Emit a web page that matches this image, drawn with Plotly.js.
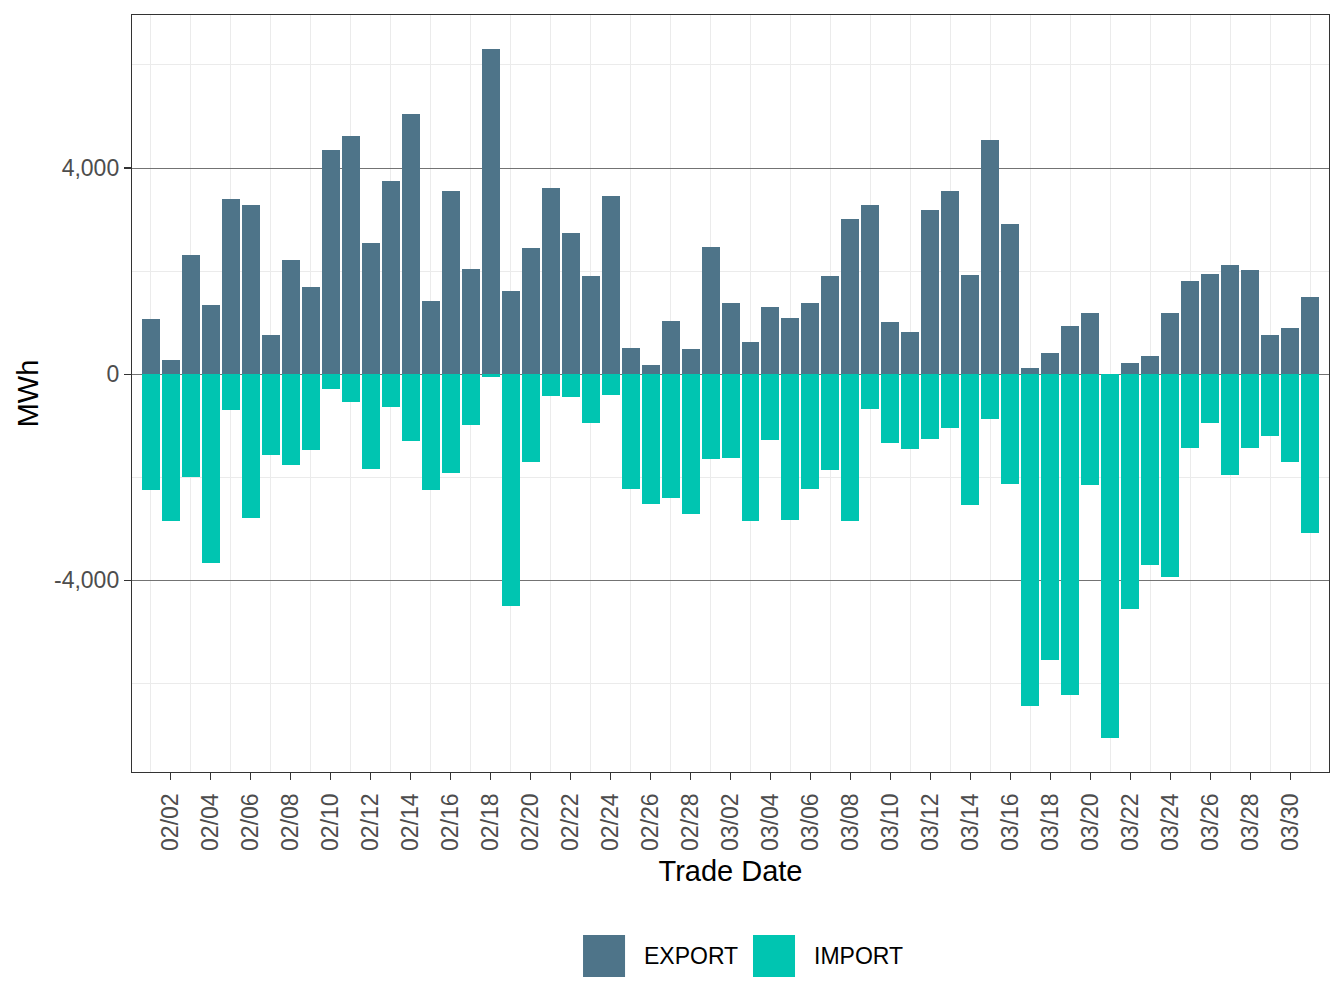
<!DOCTYPE html>
<html>
<head>
<meta charset="utf-8">
<script src="https://cdn.plot.ly/plotly-3.0.1.min.js"></script>
<style>
  html, body { margin: 0; padding: 0; background: #ffffff; }
  #chart { width: 1344px; height: 1008px; }
</style>
</head>
<body>
<div id="chart"></div>
<script>
// ---- Data ----
const tradeDates = [
  "2023-02-01","2023-02-02","2023-02-03","2023-02-04","2023-02-05","2023-02-06","2023-02-07","2023-02-08","2023-02-09","2023-02-10",
  "2023-02-11","2023-02-12","2023-02-13","2023-02-14","2023-02-15","2023-02-16","2023-02-17","2023-02-18","2023-02-19","2023-02-20",
  "2023-02-21","2023-02-22","2023-02-23","2023-02-24","2023-02-25","2023-02-26","2023-02-27","2023-02-28","2023-03-01","2023-03-02",
  "2023-03-03","2023-03-04","2023-03-05","2023-03-06","2023-03-07","2023-03-08","2023-03-09","2023-03-10","2023-03-11","2023-03-12",
  "2023-03-13","2023-03-14","2023-03-15","2023-03-16","2023-03-17","2023-03-18","2023-03-19","2023-03-20","2023-03-21","2023-03-22",
  "2023-03-23","2023-03-24","2023-03-25","2023-03-26","2023-03-27","2023-03-28","2023-03-29","2023-03-30","2023-03-31"
];

const exportMWh = [
  1070, 270, 2310, 1340, 3400, 3280, 760, 2210, 1690, 4350,
  4620, 2540, 3750, 5050, 1420, 3550, 2040, 6310, 1610, 2450,
  3610, 2740, 1900, 3460, 510, 180, 1030, 490, 2470, 1380,
  620, 1300, 1090, 1380, 1900, 3010, 3280, 1010, 820, 3180,
  3550, 1920, 4540, 2910, 120, 410, 930, 1180, 0, 210,
  350, 1180, 1810, 1940, 2120, 2020, 760, 890, 1500
];

const importMWh = [
  -2250, -2850, -2000, -3660, -700, -2790, -1570, -1760, -1470, -290,
  -540, -1840, -640, -1290, -2250, -1920, -980, -50, -4500, -1700,
  -420, -440, -945, -400, -2230, -2520, -2400, -2710, -1640, -1620,
  -2850, -1280, -2830, -2230, -1860, -2850, -670, -1330, -1450, -1260,
  -1040, -2540, -870, -2130, -6440, -5550, -6230, -2150, -7060, -4560,
  -3700, -3940, -1430, -945, -1960, -1430, -1200, -1700, -3080
];

const seriesNames = ["EXPORT", "IMPORT"];
const seriesColors = ["#4E7489", "#00C5B1"];

const yTickVals = [-4000, 0, 4000];
const yTickText = ["-4,000", "0", "4,000"];
const yMinorVals = [-6000, -2000, 2000, 6000];

// ---- Chart ----
const DAY = 86400000;
const fontFam = '"Liberation Sans", Arial, Helvetica, sans-serif';

const traces = [
  {
    type: "bar", name: seriesNames[0], x: tradeDates, y: exportMWh,
    width: 0.9 * DAY, marker: { color: seriesColors[0], line: { width: 0 } },
    hovertemplate: "%{x|%m/%d}: %{y:,}<extra>EXPORT</extra>"
  },
  {
    type: "bar", name: seriesNames[1], x: tradeDates, y: importMWh,
    width: 0.9 * DAY, marker: { color: seriesColors[1], line: { width: 0 } },
    hovertemplate: "%{x|%m/%d}: %{y:,}<extra>IMPORT</extra>"
  }
];

// Legend drawn as large ggplot-style keys (paper coordinates)
const keyX = [[0.3768, 0.4119], [0.5188, 0.5539]];
const labelX = [0.4261, 0.5681];
const keyY = [-0.2708, -0.2153];
const legendShapes = seriesNames.map((n, i) => ({
  type: "rect", xref: "paper", yref: "paper",
  x0: keyX[i][0], x1: keyX[i][1], y0: keyY[0], y1: keyY[1],
  fillcolor: seriesColors[i], line: { width: 0 }
}));
const legendLabels = seriesNames.map((n, i) => ({
  xref: "paper", yref: "paper", x: labelX[i], y: (keyY[0] + keyY[1]) / 2,
  xanchor: "left", yanchor: "middle", showarrow: false, text: n,
  font: { size: 23, color: "#000000", family: fontFam }
}));

const layout = {
  width: 1344, height: 1008,
  paper_bgcolor: "#ffffff", plot_bgcolor: "#ffffff",
  margin: { l: 132, r: 15, t: 15, b: 236, pad: 0 },
  barmode: "relative",
  bargap: 0,
  font: { family: fontFam, color: "#000000" },
  showlegend: false,
  shapes: legendShapes,
  annotations: legendLabels,
  xaxis: {
    type: "date",
    range: ["2023-01-31 01:34", "2023-03-31 22:26"],
    tickmode: "linear", tick0: "2023-02-02", dtick: 2 * DAY,
    tickformat: "%m/%d",
    tickangle: -90,
    tickfont: { size: 23, color: "#4D4D4D", family: fontFam },
    ticks: "outside", ticklen: 7, tickwidth: 1.2, tickcolor: "#333333",
    ticklabelstandoff: 4,
    showgrid: false,
    minor: { tick0: "2023-02-01", dtick: 2 * DAY, showgrid: true, gridcolor: "#EBEBEB", gridwidth: 1, ticks: "" },
    showline: true, mirror: true, linecolor: "#333333", linewidth: 1.2,
    zeroline: false,
    title: { text: "Trade Date", font: { size: 29, color: "#000000", family: fontFam }, standoff: 10 }
  },
  yaxis: {
    range: [-7720, 6970],
    tickmode: "array", tickvals: yTickVals, ticktext: yTickText,
    tickfont: { size: 23, color: "#4D4D4D", family: fontFam },
    ticks: "outside", ticklen: 7, tickwidth: 1.2, tickcolor: "#333333",
    showgrid: true, gridcolor: "#737373", gridwidth: 1,
    minor: { tickmode: "array", tickvals: yMinorVals, showgrid: true, gridcolor: "#EBEBEB", gridwidth: 1, ticks: "" },
    showline: true, mirror: true, linecolor: "#333333", linewidth: 1.2,
    zeroline: false,
    title: { text: "MWh", font: { size: 29, color: "#000000", family: fontFam }, standoff: 6 }
  }
};

Plotly.newPlot("chart", traces, layout, { displayModeBar: false, staticPlot: true });
</script>
</body>
</html>
